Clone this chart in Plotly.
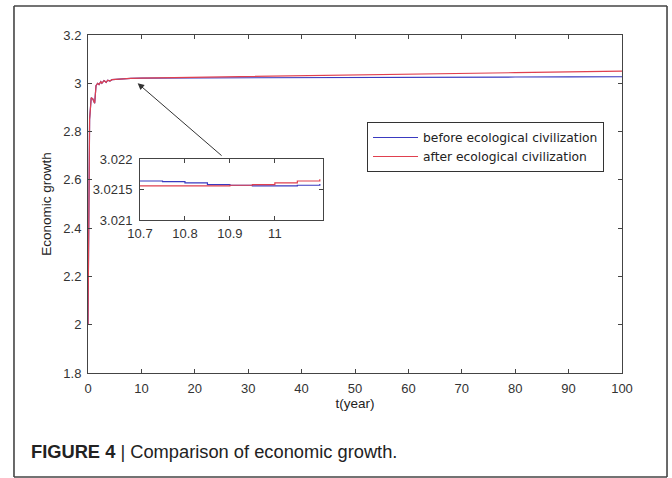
import plotly.graph_objects as go

# ---- data ----
t_main = [0, 0.3, 0.6, 0.9, 1.25, 1.5, 1.8, 2.06, 2.4, 2.6, 3.0, 3.4, 3.7, 4.1, 4.5, 5, 6, 8, 10,
          20, 30, 40, 50, 60, 70, 80, 90, 100]
before_main = [2.0, 2.85, 2.94, 2.935, 2.917, 2.99, 3.0, 2.995, 3.007, 3.0, 3.011, 3.004, 3.013, 3.009,
               3.015, 3.016, 3.018, 3.020, 3.0215,
               3.0225, 3.023, 3.024, 3.0245, 3.025, 3.0255, 3.026, 3.0265, 3.027]
after_main = [2.0, 2.85, 2.94, 2.935, 2.917, 2.99, 3.0, 2.995, 3.007, 3.0, 3.011, 3.004, 3.013, 3.009,
              3.015, 3.016, 3.018, 3.020, 3.0215,
              3.025, 3.029, 3.032, 3.035, 3.038, 3.041, 3.044, 3.047, 3.050]

t_inset = [10.7, 10.75, 10.8, 10.85, 10.9, 10.95, 11.0, 11.05, 11.1]
before_inset = [3.02164, 3.02163, 3.02161, 3.02158, 3.02157, 3.02156, 3.02156, 3.02157, 3.02159]
after_inset = [3.02156, 3.02156, 3.02156, 3.02156, 3.02157, 3.02158, 3.02161, 3.02164, 3.02167]

x_ticks = [0, 10, 20, 30, 40, 50, 60, 70, 80, 90, 100]
y_ticks = [1.8, 2.0, 2.2, 2.4, 2.6, 2.8, 3.0, 3.2]
y_tick_text = ["1.8", "2", "2.2", "2.4", "2.6", "2.8", "3", "3.2"]
inset_x_ticks = [10.7, 10.8, 10.9, 11.0]
inset_x_text = ["10.7", "10.8", "10.9", "11"]
inset_y_ticks = [3.021, 3.0215, 3.022]
inset_y_text = ["3.021", "3.0215", "3.022"]

series_names = ["before ecological civilization", "after ecological civilization"]
BLUE = "#3a3ac0"
RED = "#e0404f"
FONT = "Liberation Sans, Arial, sans-serif"
AX = "#444444"

fig = go.Figure()
fig.add_trace(go.Scatter(x=t_main, y=before_main, mode="lines", name=series_names[0],
                         line=dict(color=BLUE, width=1.2), xaxis="x", yaxis="y"))
fig.add_trace(go.Scatter(x=t_main, y=after_main, mode="lines", name=series_names[1],
                         line=dict(color=RED, width=1.2), xaxis="x", yaxis="y"))
fig.add_trace(go.Scatter(x=t_inset, y=before_inset, mode="lines", showlegend=False,
                         line=dict(color=BLUE, width=1.2, shape="hv"), xaxis="x2", yaxis="y2"))
fig.add_trace(go.Scatter(x=t_inset, y=after_inset, mode="lines", showlegend=False,
                         line=dict(color=RED, width=1.2, shape="hv"), xaxis="x2", yaxis="y2"))

axis_common = dict(showline=True, linecolor=AX, linewidth=1, mirror="ticks", ticks="inside",
                   ticklen=4, tickcolor=AX, showgrid=False, zeroline=False, automargin=False,
                   tickfont=dict(family=FONT, size=13, color="#333333"))

# plot area: x 88..622, y 35..373
fig.update_layout(
    width=672, height=478,
    margin=dict(l=88, r=50, t=35, b=105),
    paper_bgcolor="white", plot_bgcolor="white",
    font=dict(family=FONT, color="#222222"),
    xaxis=dict(range=[0, 100], tickvals=x_ticks, domain=[0, 1], ticklabelstandoff=3,
               title=dict(text="t(year)", font=dict(family=FONT, size=13.5, color="#222222"), standoff=3),
               **axis_common),
    yaxis=dict(range=[1.8, 3.2], tickvals=y_ticks, ticktext=y_tick_text, domain=[0, 1],
               ticklabelstandoff=3,
               title=dict(text="Economic growth", font=dict(family=FONT, size=13.5, color="#222222"), standoff=8),
               **axis_common),
    xaxis2=dict(range=[10.7, 11.107], tickvals=inset_x_ticks, ticktext=inset_x_text,
                domain=[0.0974, 0.440], anchor="y2", ticklabelstandoff=1, **axis_common),
    yaxis2=dict(range=[3.021, 3.022], tickvals=inset_y_ticks, ticktext=inset_y_text,
                domain=[0.4527, 0.633], anchor="x2", ticklabelstandoff=4, **axis_common),
    legend=dict(x=0.5225, y=0.7426, xanchor="left", yanchor="top",
                bordercolor="#333333", borderwidth=1, bgcolor="white",
                font=dict(family="DejaVu Sans, Verdana, sans-serif", size=12.3, color="#222222"),
                itemwidth=45, tracegroupgap=0),
    showlegend=True,
)

# outer frame (four edges)
frame_x = [-0.1386, 1.0843]
frame_y = [-0.3077, 1.0858]
for (x0, y0, x1, y1) in [(frame_x[0], frame_y[0], frame_x[1], frame_y[0]),
                         (frame_x[0], frame_y[1], frame_x[1], frame_y[1]),
                         (frame_x[0], frame_y[0], frame_x[0], frame_y[1]),
                         (frame_x[1], frame_y[0], frame_x[1], frame_y[1])]:
    fig.add_shape(type="line", xref="paper", yref="paper", x0=x0, y0=y0, x1=x1, y1=y1,
                  line=dict(color="#444444", width=1.6), layer="above")

# arrow pointing from inset to the curve
fig.add_annotation(x=9.3, y=3.0, xref="x", yref="y", ax=25.3, ay=2.695, axref="x", ayref="y",
                   showarrow=True, arrowhead=2, arrowsize=1.3, arrowwidth=1, arrowcolor="#333333", text="")

# caption
fig.add_annotation(xref="paper", yref="paper", x=-0.1105, y=-0.2337, xanchor="left", yanchor="middle",
                   showarrow=False, align="left",
                   text="<b>FIGURE 4</b> | Comparison of economic growth.",
                   font=dict(family=FONT, size=18.3, color="#222222"))

fig.write_html("out.html", config={"displayModeBar": False},
               post_script="document.body.style.margin='0';")
